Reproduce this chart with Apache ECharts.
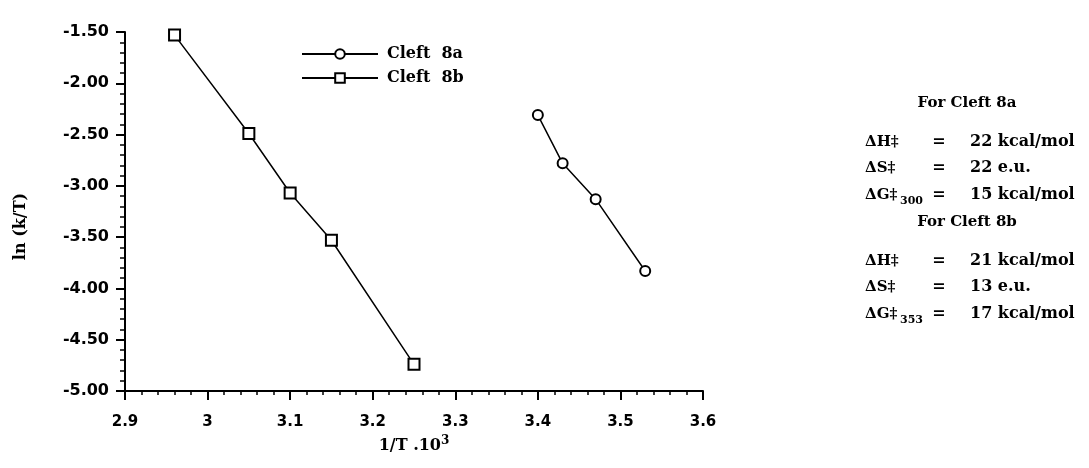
<!DOCTYPE html>
<html>
<head>
<meta charset="utf-8">
<script src="https://cdn.jsdelivr.net/npm/echarts@6/dist/echarts.min.js"></script>
<style>
html,body{margin:0;padding:0;background:#fff;}
#chart{width:1089px;height:468px;}
</style>
</head>
<body>
<div id="chart"></div>
<script>
// Data
const cleft8aX = [3.40, 3.43, 3.47, 3.53];
const cleft8aY = [-2.31, -2.78, -3.13, -3.83];
const cleft8bX = [2.96, 3.05, 3.10, 3.15, 3.25];
const cleft8bY = [-1.53, -2.49, -3.07, -3.53, -4.74];
const seriesNames = ['Cleft  8a', 'Cleft  8b'];
const xTitle = '1/T .10';
const yTitle = 'ln (k/T)';
const panelA = { title: 'For Cleft 8a', dH: '22 kcal/mol', dS: '22 e.u.', dG: '15 kcal/mol', dGsub: '300' };
const panelB = { title: 'For Cleft 8b', dH: '21 kcal/mol', dS: '13 e.u.', dG: '17 kcal/mol', dGsub: '353' };

const serif = "'DejaVu Serif', serif";
const sans = "'DejaVu Sans', sans-serif";

function pairs(xs, ys) { return xs.map((x, i) => [x, ys[i]]); }

const chart = echarts.init(document.getElementById('chart'), null, { renderer: 'canvas' });

const txtStyle = { fontFamily: serif, fontWeight: 'bold', fontSize: 16, fill: '#000' };
function panelTexts(p, y0) {
  const els = [];
  els.push({ type: 'text', x: 967, y: y0, style: Object.assign({}, txtStyle, { text: p.title, fontSize: 15, textAlign: 'center', textVerticalAlign: 'middle' }) });
  const rows = [
    { lab: 'ΔH‡', val: p.dH, y: y0 + 39 },
    { lab: 'ΔS‡', val: p.dS, y: y0 + 65 },
    { lab: 'ΔG‡', val: p.dG, y: y0 + 92, sub: p.dGsub }
  ];
  rows.forEach(r => {
    els.push({ type: 'text', x: 865, y: r.y, style: Object.assign({}, txtStyle, { text: r.lab, fontSize: 15, textAlign: 'left', textVerticalAlign: 'middle' }) });
    if (r.sub) {
      els.push({ type: 'text', x: 900, y: r.y + 6, style: Object.assign({}, txtStyle, { text: r.sub, fontSize: 11, textAlign: 'left', textVerticalAlign: 'middle' }) });
    }
    els.push({ type: 'text', x: 939, y: r.y, style: Object.assign({}, txtStyle, { text: '=', textAlign: 'center', textVerticalAlign: 'middle' }) });
    els.push({ type: 'text', x: 970, y: r.y, style: Object.assign({}, txtStyle, { text: r.val, textAlign: 'left', textVerticalAlign: 'middle' }) });
  });
  return els;
}

const option = {
  backgroundColor: '#fff',
  animation: false,
  grid: { left: 125, right: 386, top: 32, bottom: 77, containLabel: false },
  legend: {
    orient: 'vertical',
    left: 296,
    top: 41,
    itemWidth: 76,
    itemHeight: 12,
    itemGap: 8,
    textStyle: { fontFamily: serif, fontWeight: 'bold', fontSize: 16, color: '#000', padding: [0, 0, 0, 4] },
    data: seriesNames
  },
  xAxis: {
    type: 'value',
    min: 2.9,
    max: 3.6,
    interval: 0.1,
    name: xTitle + '{sup|3}',
    nameLocation: 'middle',
    nameGap: 44,
    nameTextStyle: {
      fontFamily: serif, fontWeight: 'bold', fontSize: 16, color: '#000',
      rich: { sup: { fontFamily: serif, fontWeight: 'bold', fontSize: 12, verticalAlign: 'top', padding: [0, 0, 10, 0] } }
    },
    axisLine: { show: true, onZero: false, lineStyle: { color: '#000', width: 2 } },
    axisTick: { show: true, length: 9, lineStyle: { color: '#000', width: 2 } },
    minorTick: { show: true, splitNumber: 5, length: 4, lineStyle: { color: '#000', width: 1.5 } },
    splitLine: { show: false },
    axisLabel: { margin: 24, fontFamily: sans, fontWeight: 'bold', fontSize: 15, color: '#000' }
  },
  yAxis: {
    type: 'value',
    min: -5,
    max: -1.5,
    interval: 0.5,
    name: yTitle,
    nameLocation: 'middle',
    nameGap: 96,
    nameRotate: 90,
    nameTextStyle: { fontFamily: serif, fontWeight: 'bold', fontSize: 16, color: '#000', padding: [0, 30, 0, 0] },
    axisLine: { show: true, onZero: false, lineStyle: { color: '#000', width: 2 } },
    axisTick: { show: true, length: 9, lineStyle: { color: '#000', width: 2 } },
    minorTick: { show: true, splitNumber: 5, length: 5, lineStyle: { color: '#000', width: 1.5 } },
    splitLine: { show: false },
    axisLabel: { margin: 16, fontFamily: sans, fontWeight: 'bold', fontSize: 16, color: '#000', formatter: v => v.toFixed(2) }
  },
  series: [
    {
      name: seriesNames[0],
      type: 'line',
      data: pairs(cleft8aX, cleft8aY),
      symbol: 'circle',
      symbolSize: 10,
      showAllSymbol: true,
      lineStyle: { color: '#000', width: 1.5 },
      itemStyle: { color: '#fff', borderColor: '#000', borderWidth: 2 },
      z: 3
    },
    {
      name: seriesNames[1],
      type: 'line',
      data: pairs(cleft8bX, cleft8bY),
      symbol: 'rect',
      symbolSize: 11,
      showAllSymbol: true,
      lineStyle: { color: '#000', width: 1.5 },
      itemStyle: { color: '#fff', borderColor: '#000', borderWidth: 2 },
      z: 3
    }
  ],
  graphic: [].concat(panelTexts(panelA, 103), panelTexts(panelB, 222))
};

chart.setOption(option);
</script>
</body>
</html>
